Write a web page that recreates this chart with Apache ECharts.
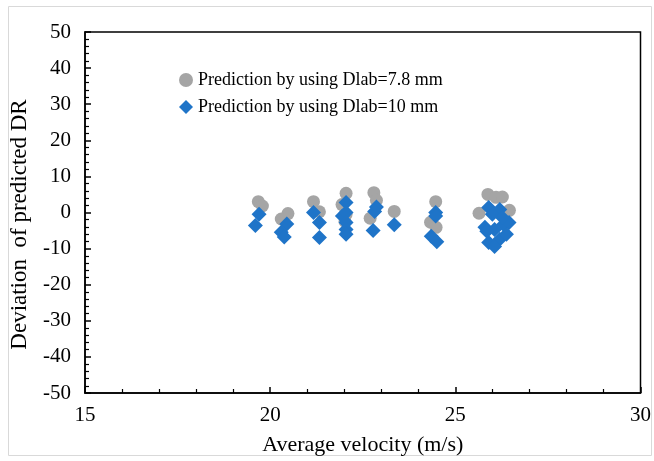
<!DOCTYPE html>
<html>
<head>
<meta charset="utf-8">
<script src="https://cdn.jsdelivr.net/npm/echarts@6/dist/echarts.min.js"></script>
<style>
    html, body { margin: 0; padding: 0; background: #fff; }
    #app { width: 654px; height: 461px; }
</style>
</head>
<body>
<div id="app"></div>
<script>
// 数据：平均速度 (m/s) 与 预测偏差
let dlab78Velocity = [19.68, 19.79, 20.48, 20.3, 21.17, 21.33, 22.05, 21.94, 22.05, 22.02, 22.8, 22.87, 22.7, 23.35, 24.47, 24.33, 24.48, 25.64, 25.88, 26.1, 26.27, 26.46];
let dlab78Deviation = [3, 1.8, -0.3, -1.8, 3, 0.2, 5.3, 2.2, -0.5, -2.5, 5.5, 3.4, -1.6, 0.3, 3, -2.7, -4.1, -0.2, 5, 4.2, 4.3, 0.6];

let dlab10Velocity = [19.7, 19.6, 20.45, 20.3, 20.38, 21.17, 21.33, 21.33, 22.05, 21.95, 22.05, 22.05, 22.05, 22.05, 22.87, 22.82, 22.78, 23.35, 24.47, 24.47, 24.35, 24.5, 25.9, 26.2, 25.8, 26.3, 26.45, 26.0, 26.06, 25.9, 26.2, 26.06, 25.85, 26.27, 26.38];
let dlab10Deviation = [-0.5, -3.6, -3.2, -5.5, -6.8, 0, -2.8, -6.9, 2.8, -1, 0, -2.8, -4.7, -6, 1.5, 0.3, -5, -3.4, 0, -1, -6.6, -8.1, 1.4, 0.8, -4.1, -3.3, -2.8, -0.5, -4.7, -8.3, -7.4, -9.4, -5.2, -1.4, -6];

let xTicks = [15, 20, 25, 30];
let yTicks = [-50, -40, -30, -20, -10, 0, 10, 20, 30, 40, 50];

let zip = (xs, ys) => xs.map((x, i) => [x, ys[i]]);

let myChart = echarts.init(document.querySelector("#app"));
let serifFont = "'Liberation Serif', 'Times New Roman', serif";

myChart.setOption({
    animation: false,
    textStyle: { fontFamily: serifFont },
    // 外框
    graphic: [{
        type: "rect",
        shape: { x: 8.5, y: 6.5, width: 643, height: 449 },
        style: { fill: "none", stroke: "#d9d9d9", lineWidth: 1 },
        silent: true
    }],
    grid: {
        left: 84,
        right: 7,
        top: 32,
        bottom: 66,
        show: true,
        borderColor: "#000",
        borderWidth: 1.5,
        backgroundColor: "#fff"
    },
    legend: {
        orient: "vertical",
        left: 174,
        top: 66,
        itemGap: 9,
        itemWidth: 14,
        itemHeight: 14,
        textStyle: { fontFamily: serifFont, fontSize: 18, color: "#000" },
        data: [
            { name: "Prediction by using Dlab=7.8 mm", icon: "circle" },
            { name: "Prediction by using Dlab=10 mm", icon: "diamond" }
        ]
    },
    xAxis: {
        type: "value",
        min: xTicks[0],
        max: xTicks[xTicks.length - 1],
        interval: 5,
        name: "Average velocity (m/s)",
        nameLocation: "middle",
        nameGap: 41,
        nameTextStyle: { fontFamily: serifFont, fontSize: 22, color: "#000" },
        axisLine: { onZero: false, lineStyle: { color: "#000", width: 1.5 } },
        axisTick: { inside: true, length: 6, lineStyle: { color: "#000", width: 1.5 } },
        minorTick: { show: true, splitNumber: 5, length: 4, lineStyle: { color: "#000", width: 1.2 } },
        axisLabel: { fontFamily: serifFont, fontSize: 21, color: "#000", margin: 12 },
        splitLine: { show: false }
    },
    yAxis: {
        type: "value",
        min: yTicks[0],
        max: yTicks[yTicks.length - 1],
        interval: 10,
        name: "Deviation  of predicted DR",
        nameLocation: "middle",
        nameGap: 54,
        nameTextStyle: { fontFamily: serifFont, fontSize: 23, color: "#000", padding: [0, 24, 0, 0] },
        axisLine: { onZero: false, lineStyle: { color: "#000", width: 1.5 } },
        axisTick: { inside: true, length: 6, lineStyle: { color: "#000", width: 1.5 } },
        minorTick: { show: true, splitNumber: 5, length: 4, lineStyle: { color: "#000", width: 1.2 } },
        axisLabel: { fontFamily: serifFont, fontSize: 21, color: "#000", margin: 14 },
        splitLine: { show: false }
    },
    series: [
        {
            name: "Prediction by using Dlab=7.8 mm",
            type: "scatter",
            symbol: "circle",
            symbolSize: 13,
            itemStyle: { color: "#a5a5a5", opacity: 1 },
            data: zip(dlab78Velocity, dlab78Deviation)
        },
        {
            name: "Prediction by using Dlab=10 mm",
            type: "scatter",
            symbol: "diamond",
            symbolSize: 15,
            itemStyle: { color: "#1f74c8", opacity: 1 },
            data: zip(dlab10Velocity, dlab10Deviation)
        }
    ]
});
</script>
</body>
</html>
